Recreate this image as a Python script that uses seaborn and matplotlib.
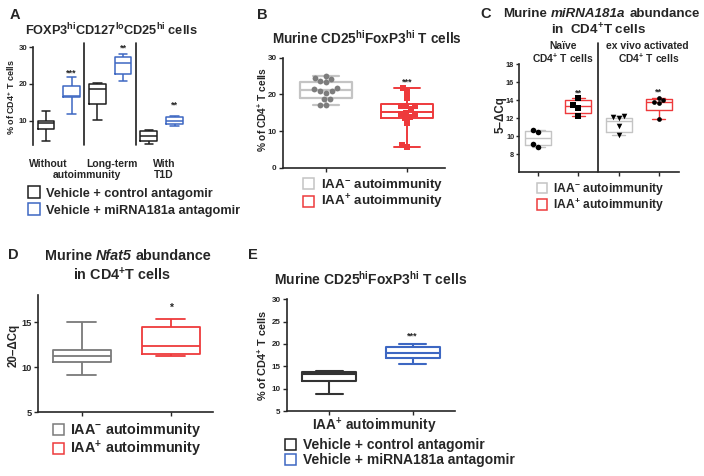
import numpy as np
import pandas as pd
import seaborn as sns
import matplotlib.pyplot as plt
from matplotlib.patches import Rectangle

# ---- data ----
# box summaries are [min, q1, median, q3, max]
A_pos = [0, 1, 2, 3, 4, 5]
A_boxes = [
    [4.7, 7.8, 9.5, 10.0, 12.8],     # without autoimmunity, control
    [11.9, 16.4, 16.8, 19.5, 21.8],  # without autoimmunity, miRNA181a
    [10.3, 14.5, 18.6, 19.9, 20.4],  # long-term, control
    [20.8, 22.7, 25.6, 27.4, 28.1],  # long-term, miRNA181a
    [3.9, 4.7, 6.0, 7.2, 7.5],       # T1D, control
    [8.6, 9.2, 10.0, 11.0, 11.4],    # T1D, miRNA181a
]
A_stars = ['', '***', '', '**', '', '**']
A_star_y = [0, 24.1, 0, 30.8, 0, 15.4]

B_box_neg = [17.1, 18.9, 21.1, 23.5, 24.9]
B_box_pos = [5.7, 13.5, 15.3, 17.3, 21.8]
B_pts_neg = [25.0, 24.5, 24.1, 23.6, 23.4, 21.8, 21.4, 20.8, 20.8, 20.4, 18.6, 18.6, 17.1, 17.1]
B_pts_pos = [21.8, 20.7, 18.9, 16.8, 16.8, 16.8, 15.9, 15.0, 14.6, 14.6, 13.9, 13.6, 12.3, 6.2, 5.7]

C_pos = [0, 1, 2, 3]
C_boxes = [
    [8.85, 9.0, 9.85, 10.55, 10.7],
    [12.3, 12.6, 13.4, 14.0, 14.3],
    [10.2, 10.5, 11.75, 12.0, 12.3],
    [11.9, 12.9, 13.8, 14.1, 14.3],
]
C_pts = [
    [10.7, 10.5, 9.1, 8.85],
    [14.3, 13.5, 13.2, 12.3],
    [12.3, 12.2, 12.0, 11.2, 10.2],
    [14.3, 14.0, 13.8, 13.7, 11.9],
]
C_markers = ['o', 's', 'v', 'o']
C_stars = ['', '**', '', '**']
C_star_y = [0, 15.3, 0, 15.45]

D_box_neg = [9.15, 10.6, 11.2, 11.85, 15.0]
D_box_pos = [11.2, 11.45, 12.3, 14.44, 15.37]

E_box_ctrl = [8.7, 11.8, 13.3, 13.8, 14.0]
E_box_mir = [15.5, 16.8, 17.9, 19.4, 20.0]

BLACK = '#1e1e1e'
BLUE = '#3d67c2'
RED = '#ee3a3c'
LGRAY = '#c4c4c4'
DGRAY = '#7a7a7a'
PTGRAY = '#7d7d7d'

sns.set_style('ticks')
plt.rcParams['font.family'] = ['Liberation Sans', 'DejaVu Sans']
plt.rcParams['font.weight'] = 'bold'
plt.rcParams['mathtext.fontset'] = 'custom'
plt.rcParams['mathtext.rm'] = 'Liberation Sans:bold'
plt.rcParams['mathtext.bf'] = 'Liberation Sans:bold'
plt.rcParams['mathtext.it'] = 'Liberation Sans:italic:bold'
plt.rcParams['mathtext.default'] = 'bf'
plt.rcParams['axes.linewidth'] = 1.2

W, H = 704, 476
fig = plt.figure(figsize=(W / 100, H / 100), dpi=100)
renderer = fig.canvas.get_renderer()


def px_axes(l, t, r, b):
    return fig.add_axes([l / W, 1 - b / H, (r - l) / W, (b - t) / H])


def ftext(x, y, s, **kw):
    return fig.text(x / W, 1 - y / H, s, **kw)


def rich_line(xc, y, parts, fs):
    # a centred line made of upright and italic pieces
    texts = [ftext(0, y, s, fontsize=fs, fontstyle=st, va='baseline') for s, st in parts]
    widths = [t.get_window_extent(renderer).width for t in texts]
    sp = 0.278 * fs * 100 / 72
    x = xc - (sum(widths) + sp * (len(parts) - 1)) / 2
    for t, w in zip(texts, widths):
        t.set_x(x / W)
        x += w + sp


def box(ax, pos, stats, color, lw=1.2):
    sns.boxplot(x=[pos] * len(stats), y=stats, orient='x', native_scale=True,
                whis=(0, 100), width=0.65, fill=False, color=color,
                linewidth=lw, showfliers=False, ax=ax)


def style_axes(ax, bottom=True, labelsize=6):
    sns.despine(ax=ax, bottom=not bottom)
    ax.tick_params(length=3, width=1, labelsize=labelsize, pad=1.5)
    ax.set_xticklabels([])


def legend(x, yc, labels, colors, fs, dy, tx, size=11):
    for i, (lab, c) in enumerate(zip(labels, colors)):
        y = yc + i * dy
        fig.add_artist(Rectangle((x / W, 1 - (y + size / 2) / H), size / W, size / H,
                                 transform=fig.transFigure, fill=False,
                                 edgecolor=c, lw=1.1))
        ftext(tx, y + 0.36 * fs * 100 / 72, lab, fontsize=fs, va='baseline')


iaa = [r'IAA$^{-}$ autoimmunity', r'IAA$^{+}$ autoimmunity']
veh = ['Vehicle + control antagomir', 'Vehicle + miRNA181a antagomir']

# ---- A ----
axA = px_axes(33, 47, 190, 145)
for p, st in zip(A_pos, A_boxes):
    box(axA, p, st, BLUE if p % 2 else BLACK, lw=1.1)
axA.set_xlim(-0.5, 5.6)
axA.set_ylim(3.5, 30)
axA.set_yticks([10, 20, 30])
axA.set_xticks([])
style_axes(axA, bottom=False, labelsize=5.6)
axA.tick_params(axis='y', pad=1)
for xs in [1.5, 3.5]:
    axA.axvline(xs, ymax=1.04, color=BLACK, lw=1.2, clip_on=False)
for p, s, y in zip(A_pos, A_stars, A_star_y):
    if s:
        axA.text(p, y, s, ha='center', va='top', fontsize=6.5)
ftext(15, 15, 'A', fontsize=10.5, ha='center', va='center')
ftext(111.5, 35, r'FOXP3$^{hi}$CD127$^{lo}$CD25$^{hi}$ cells', fontsize=9.2, ha='center', va='baseline')
ftext(11, 97, r'% of CD4$^{+}$ T cells', fontsize=6.5, rotation=90, ha='center', va='center')
ftext(48, 166.7, 'Without', fontsize=7.5, ha='center', va='baseline')
ftext(111.5, 166.7, 'Long-term', fontsize=7.5, ha='center', va='baseline')
ftext(164, 166.7, 'With', fontsize=7.5, ha='center', va='baseline')
ftext(87, 177.7, 'autoimmunity', fontsize=7.5, ha='center', va='baseline')
ftext(164, 177.7, 'T1D', fontsize=7.5, ha='center', va='baseline')
legend(28, 192, veh, [BLACK, BLUE], 9.2, 17, 46, size=12)

# ---- B ----
axB = px_axes(283, 57.7, 445, 167.7)
box(axB, 0, B_box_neg, LGRAY, lw=1.6)
box(axB, 1, B_box_pos, RED, lw=1.4)
sns.swarmplot(x=[0] * len(B_pts_neg), y=B_pts_neg, orient='x', native_scale=True,
              color=PTGRAY, size=4.2, ax=axB)
sns.swarmplot(x=[1] * len(B_pts_pos), y=B_pts_pos, orient='x', native_scale=True,
              color=RED, marker='s', size=3.8, ax=axB)
axB.set_xlim(-0.53, 1.47)
axB.set_ylim(0, 30)
axB.set_yticks([0, 10, 20, 30])
axB.set_xticks([0, 1])
style_axes(axB, labelsize=5.8)
axB.text(1, 24.6, '***', ha='center', va='top', fontsize=6.5)
ftext(262, 15, 'B', fontsize=10.5, ha='center', va='center')
ftext(366.5, 43.3, r'Murine CD25$^{hi}$FoxP3$^{hi}$ T cells', fontsize=9.8, ha='center', va='baseline')
ftext(262, 110, r'% of CD4$^{+}$ T cells', fontsize=7.3, rotation=90, ha='center', va='center')
legend(303, 184, iaa, [LGRAY, RED], 9.6, 17, 321, size=11)

# ---- C ----
axC = px_axes(519, 64.3, 679, 172.3)
for p, st in zip(C_pos, C_boxes):
    box(axC, p, st, RED if p % 2 else LGRAY, lw=1.0)
for p, pts, m in zip(C_pos, C_pts, C_markers):
    sns.swarmplot(x=[p] * len(pts), y=pts, orient='x', native_scale=True,
                  color='black', marker=m, size=4 if m != 'o' or p == 0 else 3.4, ax=axC)
axC.set_xlim(-0.475, 3.5)
axC.set_ylim(6, 18)
axC.set_yticks([8, 10, 12, 14, 16, 18])
axC.set_xticks(C_pos)
style_axes(axC, labelsize=5.3)
axC.tick_params(axis='y', length=2.5, pad=1)
axC.axvline(1.5, ymax=1.195, color=BLACK, lw=1.2, clip_on=False)
for p, s, y in zip(C_pos, C_stars, C_star_y):
    if s:
        axC.text(p, y, s, ha='center', va='top', fontsize=6.5)
ftext(486, 14, 'C', fontsize=10.5, ha='center', va='center')
rich_line(601.5, 16.7, [('Murine', 'normal'), ('miRNA181a', 'italic'), ('abundance', 'normal')], 9.6)
ftext(599, 35, r'in  CD4$^{+}$T cells', fontsize=9.6, ha='center', va='baseline')
ftext(563, 49, 'Naïve', fontsize=7.4, ha='center', va='baseline')
ftext(563, 62.7, r'CD4$^{+}$ T cells', fontsize=7.4, ha='center', va='baseline')
ftext(647, 49, 'ex vivo activated', fontsize=7.4, ha='center', va='baseline')
ftext(649, 62.7, r'CD4$^{+}$ T cells', fontsize=7.4, ha='center', va='baseline')
ftext(501, 115, '5–ΔCq', fontsize=8.3, rotation=90, ha='center', va='center')
legend(537, 188, iaa, [LGRAY, RED], 8.7, 16.5, 553, size=10)

# ---- D ----
axD = px_axes(38, 295, 213, 412.3)
box(axD, 0, D_box_neg, DGRAY, lw=1.3)
box(axD, 1, D_box_pos, RED, lw=1.3)
axD.set_xlim(-0.49, 1.475)
axD.set_ylim(5, 18)
axD.set_yticks([5, 10, 15])
axD.set_xticks([0, 1])
style_axes(axD, labelsize=6.7)
axD.text(1, 17.1, '*', ha='center', va='top', fontsize=7.5)
ftext(13, 255, 'D', fontsize=10.5, ha='center', va='center')
rich_line(128, 260, [('Murine', 'normal'), ('Nfat5', 'italic'), ('abundance', 'normal')], 10.4)
ftext(122, 280, r'in CD4$^{+}$T cells', fontsize=10.4, ha='center', va='baseline')
ftext(14, 345, '20–ΔCq', fontsize=8.3, rotation=90, ha='center', va='center')
legend(53, 429, iaa, [DGRAY, RED], 10.4, 19, 70, size=11)

# ---- E ----
axE = px_axes(287, 299.3, 455, 411)
box(axE, 0, E_box_ctrl, '#333333', lw=1.5)
box(axE, 1, E_box_mir, BLUE, lw=1.5)
axE.set_xlim(-0.51, 1.51)
axE.set_ylim(5, 30)
axE.set_yticks([5, 10, 15, 20, 25, 30])
axE.set_xticks([0, 1])
style_axes(axE, labelsize=5.8)
axE.text(1, 22.7, '***', ha='center', va='top', fontsize=6.5)
ftext(253, 255, 'E', fontsize=10.5, ha='center', va='center')
ftext(371, 285, r'Murine CD25$^{hi}$FoxP3$^{hi}$ T cells', fontsize=10, ha='center', va='baseline')
ftext(262, 355, r'% of CD4$^{+}$ T cells', fontsize=7.8, rotation=90, ha='center', va='center')
ftext(374, 430, r'IAA$^{+}$ autoimmunity', fontsize=9.8, ha='center', va='baseline')
legend(285, 444, veh, [BLACK, BLUE], 10, 15, 303, size=11)

fig.savefig('out.png', dpi=100)
